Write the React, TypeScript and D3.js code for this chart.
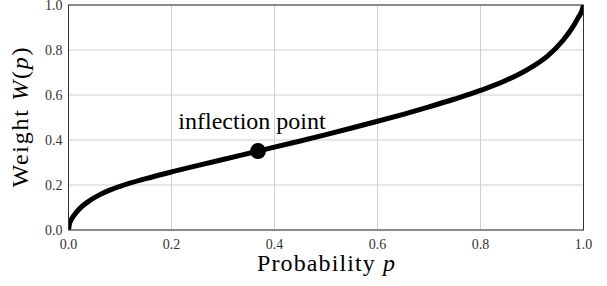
import React from 'react';
import * as d3 from 'd3';

// probability p and weight W(p)
const probs = [0, 0.002, 0.005, 0.01, 0.02, 0.04, 0.06, 0.08, 0.1, 0.15, 0.2, 0.25, 0.3, 0.368, 0.45, 0.5, 0.55, 0.6, 0.65, 0.7, 0.75, 0.8, 0.85, 0.9, 0.93, 0.96, 0.98, 0.99, 0.997, 1];
const weights = [0, 0.028, 0.045, 0.063, 0.091, 0.129, 0.156, 0.177, 0.194, 0.228, 0.258, 0.286, 0.3135, 0.3506, 0.3957, 0.4242, 0.4532, 0.4832, 0.5142, 0.5472, 0.5822, 0.6202, 0.6652, 0.7252, 0.7732, 0.8422, 0.905, 0.945, 0.975, 1];
const inflection = { p: 0.368, w: 0.3506, label: 'inflection point' };
const xTicks = [0, 0.2, 0.4, 0.6, 0.8, 1];
const yTicks = [0, 0.2, 0.4, 0.6, 0.8, 1];

const width = 607;
const height = 286;
const margin = { top: 5, right: 23.5, bottom: 56, left: 68.5 };
const serif = 'Liberation Serif';

const App = () => {
  const x = d3.scaleLinear().domain([0, 1]).range([margin.left, width - margin.right]);
  const y = d3.scaleLinear().domain([0, 1]).range([height - margin.bottom, margin.top]);
  const points = probs.map((p, i) => [p, weights[i]] as [number, number]);
  const line = d3
    .line<[number, number]>()
    .x((d) => x(d[0]))
    .y((d) => y(d[1]))
    .curve(d3.curveMonotoneX);
  const fmt = d3.format('.1f');
  const [x0, x1] = x.range();
  const [y0, y1] = y.range();

  return (
    <svg width={width} height={height} style={{ position: 'absolute', left: 0, top: 0 }}>
      <style>{`.lbl { font-family: "${serif}"; }`}</style>
      <rect x={0} y={0} width={width} height={height} fill="#fff" />
      <defs>
        <clipPath id="plot-clip">
          <rect x={x0} y={y1} width={x1 - x0} height={y0 - y1} />
        </clipPath>
      </defs>
      {/* grid */}
      {xTicks.map((t) => (
        <line key={'gx' + t} x1={x(t)} x2={x(t)} y1={y0} y2={y1} stroke="#cfcfcf" strokeWidth={1} />
      ))}
      {yTicks.map((t) => (
        <line key={'gy' + t} x1={x0} x2={x1} y1={y(t)} y2={y(t)} stroke="#cfcfcf" strokeWidth={1} />
      ))}
      {/* curve */}
      <path d={line(points) || ''} fill="none" stroke="#000" strokeWidth={5} clipPath="url(#plot-clip)" />
      {/* frame */}
      <rect x={x0} y={y1} width={x1 - x0} height={y0 - y1} fill="none" stroke="#333" strokeWidth={1} />
      {/* ticks */}
      {xTicks.map((t) => (
        <text key={'tx' + t} className="lbl" x={x(t)} y={y0 + 19} textAnchor="middle" fontSize={14} fill="#333">
          {fmt(t)}
        </text>
      ))}
      {yTicks.map((t) => (
        <text key={'ty' + t} className="lbl" x={x0 - 6} y={y(t) + 5} textAnchor="end" fontSize={14} fill="#333">
          {fmt(t)}
        </text>
      ))}
      {/* inflection point */}
      <circle cx={x(inflection.p)} cy={y(inflection.w)} r={8} fill="#000" />
      <text className="lbl" x={x(inflection.p) - 6} y={y(inflection.w) - 22} textAnchor="middle" fontSize={24} fill="#000">
        {inflection.label}
      </text>
      {/* axis labels */}
      <text
        className="lbl"
        x={(x0 + x1) / 2}
        y={271}
        textAnchor="middle"
        fontSize={24}
        fill="#000"
        textLength={138}
        lengthAdjust="spacing"
      >
        Probability <tspan fontStyle="italic">p</tspan>
      </text>
      <text
        className="lbl"
        transform={`translate(28,${(y0 + y1) / 2}) rotate(-90)`}
        textAnchor="middle"
        fontSize={24}
        fill="#000"
        textLength={140}
        lengthAdjust="spacing"
      >
        Weight <tspan fontStyle="italic">W</tspan>(<tspan fontStyle="italic">p</tspan>)
      </text>
    </svg>
  );
};

export default App;
